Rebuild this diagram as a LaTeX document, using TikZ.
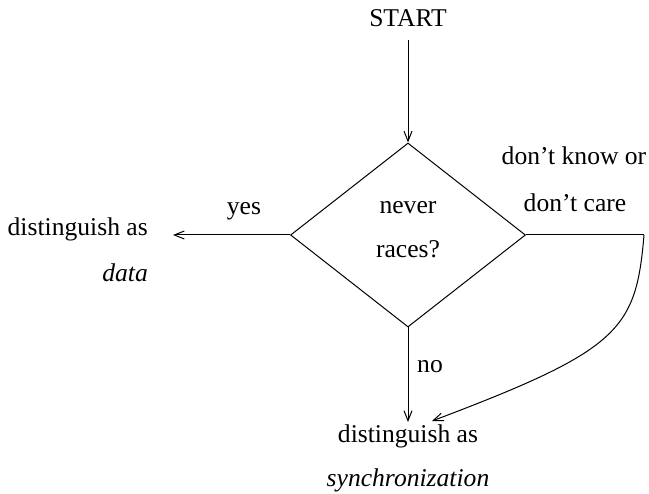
\documentclass[tikz,border=0pt]{standalone}
\usepackage{fontspec}
\setmainfont{Liberation Serif}
\usetikzlibrary{shapes.geometric,arrows.meta}
\begin{document}
\begin{tikzpicture}[x=1pt,y=-1pt,
  lbl/.style={anchor=base,inner sep=0pt,font=\fontsize{25.6}{30}\selectfont},
  conn/.style={line width=1pt,-{Straight Barb[length=10pt,width=8pt]}},
  ln/.style={line width=1pt}]
\useasboundingbox (0,0) rectangle (649,494);
\node[draw,diamond,line width=1pt,minimum width=235pt,minimum height=184pt,inner sep=0pt] (dec) at (408,235) {};
\node[lbl] (start) at (408,27) {START};
\node[lbl] (never) at (408,214) {never};
\node[lbl] (races) at (408,258) {races?};
\node[lbl] (yes) at (244,215) {yes};
\node[lbl,anchor=base east] (dist1) at (148,236) {distinguish as};
\node[lbl,anchor=base east] (data) at (148,282) {\itshape data};
\node[lbl] (dk1) at (574,165) {don’t know or};
\node[lbl] (dk2) at (575,212) {don’t care};
\node[lbl] (no) at (430,373) {no};
\node[lbl] (dist2) at (408,443) {distinguish as};
\node[lbl] (sync) at (408,487) {\itshape synchronization};
\coordinate (bend) at (644,235);
\coordinate (curveend) at (432,421);
\draw[conn,shorten <=13pt] (start.south) -- (dec.north);
\draw[conn,shorten >=25pt] (dec.west) -- (dist1.east |- dec.west);
\draw[conn,shorten >=3pt] (dec.south) -- (dist2.north);
\draw[ln] (dec.east) -- (bend);
\draw[conn] (bend) .. controls (636,330) and (620,350) .. (curveend);
\end{tikzpicture}
\end{document}
